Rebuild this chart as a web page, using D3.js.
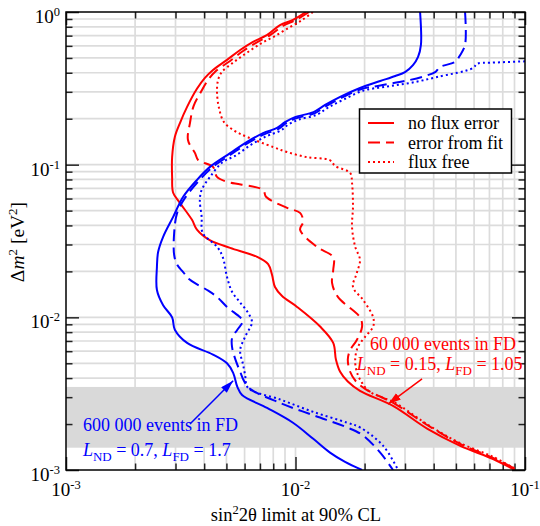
<!DOCTYPE html>
<html>
<head>
<title>Oscillation sensitivity</title>
<script src="https://cdn.jsdelivr.net/npm/d3@7"></script>
<style type="text/css">
  body { margin: 0; background: #fff; }
  text { font-family: "Liberation Serif", "Times New Roman", serif; }
</style>
</head>
<body>
<script type="text/javascript">

// axis ticks
var xMajor = [1e-3, 1e-2, 1e-1];
var xMajorExp = ["-3", "-2", "-1"];
var yMajor = [1e-3, 1e-2, 1e-1, 1];
var yMajorExp = ["-3", "-2", "-1", "0"];

// shaded dm2 range
var band = [1.4e-3, 3.5e-3];

// curves: [sin^2 2theta, dm2]
var redSolid = [[1.11e-2,1.0],[9.75e-3,0.887],[8.56e-3,0.82],[7.5e-3,0.705],[6.53e-3,0.638],[5.74e-3,0.564],[5.03e-3,0.486],[4.37e-3,0.417],[4.03e-3,0.37],[3.72e-3,0.314],[3.37e-3,0.239],[3.14e-3,0.188],[2.98e-3,0.152],[2.9e-3,0.112],[2.9e-3,0.083],[2.93e-3,0.0655],[3.14e-3,0.056],[3.54e-3,0.0435],[3.72e-3,0.0375],[4.23e-3,0.032],[5.19e-3,0.0285],[6.8e-3,0.0249],[7.6e-3,0.0223],[7.9e-3,0.019],[8.14e-3,0.0158],[8.74e-3,0.0138],[1.016e-2,0.0117],[1.28e-2,0.0087],[1.46e-2,0.0068],[1.5e-2,0.0053],[1.565e-2,0.0044],[1.69e-2,0.0038],[1.91e-2,0.0033],[2.66e-2,0.00263],[3.76e-2,0.00186],[5.22e-2,0.00144],[7.26e-2,0.00118],[9.04e-2,0.001]];

var redDashed = [[1.146e-2,1.0],[1.005e-2,0.887],[8.82e-3,0.81],[7.75e-3,0.705],[6.73e-3,0.628],[5.91e-3,0.555],[5.19e-3,0.478],[4.5e-3,0.411],[4.16e-3,0.359],[3.87e-3,0.299],[3.6e-3,0.243],[3.47e-3,0.188],[3.4e-3,0.145],[3.65e-3,0.119],[3.77e-3,0.107],[4.37e-3,0.0967],[4.55e-3,0.0831],[5.03e-3,0.0772],[7.22e-3,0.0683],[7.44e-3,0.0616],[9.19e-3,0.0521],[1.047e-2,0.0483],[1.08e-2,0.0422],[1.047e-2,0.0375],[1.24e-2,0.0289],[1.46e-2,0.0248],[1.46e-2,0.0204],[1.443e-2,0.0168],[1.53e-2,0.0136],[1.91e-2,0.01],[1.95e-2,0.0087],[1.85e-2,0.0071],[1.73e-2,0.0061],[1.69e-2,0.0053],[1.73e-2,0.0044],[1.835e-2,0.0038],[2.01e-2,0.0034],[2.72e-2,0.0027],[3.79e-2,0.00195],[5.22e-2,0.00148],[7.26e-2,0.0012],[9.04e-2,0.00102]];

var redDotted = [[1.19e-2,1.0],[1.07e-2,0.887],[9.46e-3,0.797],[8.14e-3,0.696],[7.15e-3,0.628],[6.21e-3,0.547],[5.4e-3,0.471],[4.78e-3,0.405],[4.6e-3,0.359],[4.55e-3,0.299],[4.64e-3,0.2355],[4.88e-3,0.19],[5.45e-3,0.166],[6.15e-3,0.152],[7.98e-3,0.1306],[9.19e-3,0.121],[1.12e-2,0.112],[1.41e-2,0.107],[1.49e-2,0.098],[1.73e-2,0.0883],[1.763e-2,0.076],[1.78e-2,0.0529],[1.763e-2,0.0391],[1.82e-2,0.029],[1.91e-2,0.0238],[1.85e-2,0.0195],[1.78e-2,0.0158],[1.97e-2,0.013],[2.18e-2,0.01],[2.18e-2,0.0087],[2.01e-2,0.00745],[1.87e-2,0.0064],[1.82e-2,0.0053],[1.85e-2,0.0044],[1.95e-2,0.00372],[2.11e-2,0.00325],[2.72e-2,0.00275],[3.79e-2,0.00197],[5.22e-2,0.0015],[7.26e-2,0.00122],[9.04e-2,0.00102]];

var blueSolid = [[3.49e-2,1.0],[3.52e-2,0.609],[3.42e-2,0.508],[3.25e-2,0.449],[3.0e-2,0.404],[2.72e-2,0.381],[2.34e-2,0.353],[1.91e-2,0.318],[1.565e-2,0.278],[1.346e-2,0.246],[1.198e-2,0.221],[9.95e-3,0.205],[9.0e-3,0.19],[8.31e-3,0.174],[7.22e-3,0.161],[6.15e-3,0.141],[5.19e-3,0.119],[4.24e-3,0.0967],[3.72e-3,0.0794],[3.24e-3,0.0616],[2.93e-3,0.0455],[2.65e-3,0.0337],[2.52e-3,0.0268],[2.49e-3,0.0214],[2.49e-3,0.0151],[2.65e-3,0.012],[2.9e-3,0.01],[2.98e-3,0.0083],[3.37e-3,0.0068],[4.37e-3,0.0057],[5.03e-3,0.005],[5.35e-3,0.00433],[5.58e-3,0.0035],[5.85e-3,0.0031],[7.52e-3,0.00255],[9.75e-3,0.00204],[1.195e-2,0.0016],[1.414e-2,0.0013],[1.644e-2,0.00113],[1.95e-2,0.001]];

var blueDashed = [[5.48e-2,1.0],[5.48e-2,0.609],[5.22e-2,0.523],[4.96e-2,0.471],[4.27e-2,0.437],[4.06e-2,0.404],[3.67e-2,0.381],[3.16e-2,0.359],[2.34e-2,0.33],[1.93e-2,0.312],[1.58e-2,0.273],[1.36e-2,0.242],[1.21e-2,0.217],[1.005e-2,0.201],[9.1e-3,0.187],[8.4e-3,0.171],[7.3e-3,0.158],[6.22e-3,0.139],[5.25e-3,0.117],[4.3e-3,0.095],[3.78e-3,0.078],[3.3e-3,0.0606],[3.05e-3,0.0483],[2.96e-3,0.0357],[2.96e-3,0.0256],[3.05e-3,0.0221],[3.24e-3,0.0198],[3.47e-3,0.0176],[4.12e-3,0.0151],[4.55e-3,0.0136],[5.03e-3,0.0117],[5.74e-3,0.01],[5.91e-3,0.0095],[5.58e-3,0.0083],[5.29e-3,0.0073],[5.29e-3,0.0064],[5.47e-3,0.0053],[5.74e-3,0.0044],[5.98e-3,0.0038],[6.34e-3,0.0034],[8.56e-3,0.00275],[1.198e-2,0.00228],[1.68e-2,0.0019],[1.95e-2,0.0017],[2.34e-2,0.0013],[2.66e-2,0.001]];

var blueDotted = [[0.1,0.475],[7.05e-2,0.465],[6.18e-2,0.458],[5.94e-2,0.43],[4.14e-2,0.375],[3.16e-2,0.343],[2.5e-2,0.325],[1.97e-2,0.305],[1.62e-2,0.267],[1.39e-2,0.237],[1.235e-2,0.212],[1.03e-2,0.197],[9.3e-3,0.183],[8.6e-3,0.167],[7.5e-3,0.154],[6.4e-3,0.135],[5.45e-3,0.114],[4.82e-3,0.104],[4.24e-3,0.0831],[3.9e-3,0.0683],[3.83e-3,0.0587],[3.9e-3,0.0455],[3.94e-3,0.0357],[4.55e-3,0.029],[4.82e-3,0.0248],[5.03e-3,0.0184],[5.29e-3,0.0147],[5.74e-3,0.0125],[6.21e-3,0.0107],[6.46e-3,0.0093],[6.03e-3,0.00745],[5.74e-3,0.0061],[5.91e-3,0.0049],[6.03e-3,0.0042],[6.21e-3,0.00345],[8.56e-3,0.0029],[1.198e-2,0.0024],[1.68e-2,0.00204],[1.91e-2,0.0019],[2.41e-2,0.00144],[2.8e-2,0.001]];

var legendLabels = ["no flux error", "error from fit", "flux free"];

// annotation anchors in data units
var redNote = {x: 2.11e-2, x2: 1.85e-2, y1: 0.0061, y2: 0.0045, from: [3.56e-2, 0.00395], to: [2.53e-2, 0.0027],
               line1: "60 000 events in FD", lnd: "0.15", lfd: "1.05"};
var blueNote = {x: 1.185e-3, y1: 0.0018, y2: 0.00124, from: [3.47e-3, 0.002], to: [5.35e-3, 0.00384],
                line1: "600 000 events in FD", lnd: "0.7", lfd: "1.7"};

//Width and height
var w = 540;
var h = 526;
var pLeft = 66, pRight = 525, pTop = 12, pBottom = 470;

var x = d3.scaleLog().domain([1e-3, 1e-1]).range([pLeft, pRight]);
var y = d3.scaleLog().domain([1e-3, 1]).range([pBottom, pTop]);

var svg = d3.select("body")
  .append("svg")
  .attr("width", w)
  .attr("height", h);

svg.append("defs").append("clipPath").attr("id", "plotclip")
  .append("rect")
  .attr("x", pLeft).attr("y", pTop)
  .attr("width", pRight - pLeft).attr("height", pBottom - pTop);

function isMajor(v) {
  var l = Math.log10(v);
  return Math.abs(l - Math.round(l)) < 1e-6;
}

var xAll = x.ticks();
var yAll = y.ticks();

// grid
var grid = svg.append("g").attr("stroke", "#dcdcdc").attr("stroke-width", 1.7);
grid.selectAll("line.vx").data(xAll.filter(function(d) { return x(d) > pLeft + 1 && x(d) < pRight - 1; }))
  .enter().append("line")
  .attr("x1", function(d) { return x(d); }).attr("x2", function(d) { return x(d); })
  .attr("y1", pTop).attr("y2", pBottom);
grid.selectAll("line.hy").data(yAll.filter(function(d) { return y(d) > pTop + 1 && y(d) < pBottom - 1; }))
  .enter().append("line")
  .attr("y1", function(d) { return y(d); }).attr("y2", function(d) { return y(d); })
  .attr("x1", pLeft).attr("x2", pRight);

// shaded band
svg.append("rect")
  .attr("x", pLeft)
  .attr("y", y(band[1]))
  .attr("width", pRight - pLeft)
  .attr("height", y(band[0]) - y(band[1]))
  .attr("fill", "#d9d9d9");

// ticks, inward, through d3 axes
function tickAxis(axisFn, scale, vals, size, tx, ty) {
  var g = svg.append("g")
    .attr("transform", "translate(" + tx + "," + ty + ")")
    .call(axisFn(scale).tickValues(vals).tickSize(size).tickFormat(""));
  g.select(".domain").remove();
  g.selectAll("line").attr("stroke", "#222").attr("stroke-width", 1.5);
}
var xMin = xAll.filter(function(d) { return !isMajor(d); });
var yMin = yAll.filter(function(d) { return !isMajor(d); });
tickAxis(d3.axisBottom, x, xMin, -6.5, 0, pBottom);
tickAxis(d3.axisBottom, x, xMajor, -13, 0, pBottom);
tickAxis(d3.axisTop, x, xMin, -6.5, 0, pTop);
tickAxis(d3.axisTop, x, xMajor, -13, 0, pTop);
tickAxis(d3.axisLeft, y, yMin, -6.5, pLeft, 0);
tickAxis(d3.axisLeft, y, yMajor, -13, pLeft, 0);
tickAxis(d3.axisRight, y, yMin, -6.5, pRight, 0);
tickAxis(d3.axisRight, y, yMajor, -13, pRight, 0);

// curves
var line = d3.line()
  .x(function(d) { return x(d[0]); })
  .y(function(d) { return y(d[1]); })
  .curve(d3.curveCatmullRom.alpha(0.5));

var curves = [
  {data: redSolid, color: "#ff0000", dash: null},
  {data: redDashed, color: "#ff0000", dash: "12,6"},
  {data: redDotted, color: "#ff0000", dash: "2,3"},
  {data: blueSolid, color: "#0000ff", dash: null},
  {data: blueDashed, color: "#0000ff", dash: "12,6"},
  {data: blueDotted, color: "#0000ff", dash: "2,3"}
];

svg.append("g").attr("clip-path", "url(#plotclip)")
  .selectAll("path")
  .data(curves)
  .enter()
  .append("path")
  .attr("d", function(d) { return line(d.data); })
  .attr("fill", "none")
  .attr("stroke", function(d) { return d.color; })
  .attr("stroke-width", 2)
  .attr("stroke-dasharray", function(d) { return d.dash; });

// frame
svg.append("rect")
  .attr("x", pLeft).attr("y", pTop)
  .attr("width", pRight - pLeft).attr("height", pBottom - pTop)
  .attr("fill", "none").attr("stroke", "#000").attr("stroke-width", 1.5);

// tick labels
var xl = svg.selectAll("text.xl").data(xMajor).enter().append("text")
  .attr("x", function(d) { return x(d); })
  .attr("y", 496)
  .attr("text-anchor", "middle")
  .attr("font-size", 19);
xl.append("tspan").text("10");
xl.append("tspan").attr("dy", -7).attr("font-size", 12.5).text(function(d, i) { return xMajorExp[i]; });

var yl = svg.selectAll("text.yl").data(yMajor).enter().append("text")
  .attr("x", 60)
  .attr("y", function(d) { return y(d) + 11; })
  .attr("text-anchor", "end")
  .attr("font-size", 19);
yl.append("tspan").text("10");
yl.append("tspan").attr("dy", -7).attr("font-size", 12.5).text(function(d, i) { return yMajorExp[i]; });

// axis titles
var xt = svg.append("text")
  .attr("x", 296).attr("y", 521)
  .attr("text-anchor", "middle")
  .attr("font-size", 18.5);
xt.append("tspan").text("sin");
xt.append("tspan").attr("dy", -7).attr("font-size", 12.5).text("2");
xt.append("tspan").attr("dy", 7).text("2\u03b8 limit at 90% CL");

var yt = svg.append("text")
  .attr("transform", "translate(24,242) rotate(-90)")
  .attr("text-anchor", "middle")
  .attr("font-size", 19.5);
yt.append("tspan").text("\u0394");
yt.append("tspan").attr("font-style", "italic").text("m");
yt.append("tspan").attr("dy", -7).attr("font-size", 13).text("2");
yt.append("tspan").attr("dy", 7).text(" [eV");
yt.append("tspan").attr("dy", -7).attr("font-size", 13).text("2");
yt.append("tspan").attr("dy", 7).text("]");

// legend
var lg = svg.append("g");
lg.append("rect")
  .attr("x", 359.5).attr("y", 109)
  .attr("width", 152).attr("height", 64)
  .attr("fill", "#fff").attr("stroke", "#000").attr("stroke-width", 1.5);
var dashes = [null, "12,6", "2,3"];
legendLabels.forEach(function(lab, i) {
  var ly = 123 + i * 19.5;
  lg.append("line")
    .attr("x1", 368).attr("x2", 394)
    .attr("y1", ly).attr("y2", ly)
    .attr("stroke", "#ff0000").attr("stroke-width", 2)
    .attr("stroke-dasharray", dashes[i]);
  lg.append("text")
    .attr("x", 408).attr("y", ly + 6)
    .attr("font-size", 18)
    .text(lab);
});

// arrows
var defs = svg.select("defs");
[["red", "#ff0000"], ["blue", "#0000ff"]].forEach(function(c) {
  defs.append("marker")
    .attr("id", "arrow-" + c[0])
    .attr("markerUnits", "userSpaceOnUse")
    .attr("markerWidth", 14).attr("markerHeight", 10)
    .attr("refX", 13).attr("refY", 4)
    .attr("orient", "auto")
    .append("path")
    .attr("d", "M0,0 L13,4 L0,8 Z")
    .attr("fill", c[1]);
});

function note(n, color, id, x2) {
  svg.append("text")
    .attr("x", x(n.x)).attr("y", y(n.y1))
    .attr("fill", color).attr("font-size", 18)
    .text(n.line1);
  var t2 = svg.append("text")
    .attr("x", x(x2)).attr("y", y(n.y2))
    .attr("fill", color).attr("font-size", 18);
  t2.append("tspan").attr("font-style", "italic").text("L");
  t2.append("tspan").attr("dy", 5).attr("font-size", 13).text("ND");
  t2.append("tspan").attr("dy", -5).text(" = " + n.lnd + ", ");
  t2.append("tspan").attr("font-style", "italic").text("L");
  t2.append("tspan").attr("dy", 5).attr("font-size", 13).text("FD");
  t2.append("tspan").attr("dy", -5).text(" = " + n.lfd);
  svg.append("line")
    .attr("x1", x(n.from[0])).attr("y1", y(n.from[1]))
    .attr("x2", x(n.to[0])).attr("y2", y(n.to[1]))
    .attr("stroke", color).attr("stroke-width", 1.5)
    .attr("marker-end", "url(#arrow-" + id + ")");
}
note(redNote, "#ff0000", "red", redNote.x2);
note(blueNote, "#0000ff", "blue", blueNote.x);

</script>
</body>
</html>
